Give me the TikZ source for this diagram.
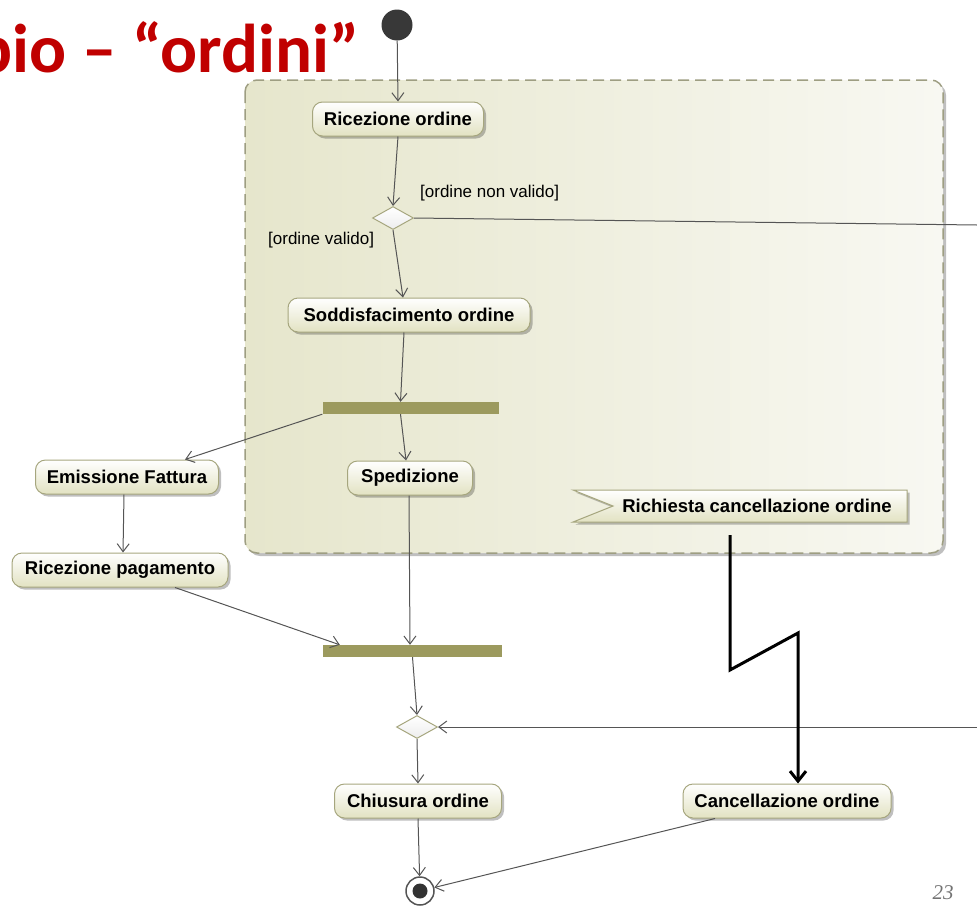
\documentclass[tikz,border=0pt]{standalone}
\usepackage{fontspec}
\setmainfont{Liberation Sans}
\newfontfamily\titlefont{Carlito}
\newfontfamily\numfont{Liberation Serif}
\usetikzlibrary{arrows.meta,shapes.geometric,shadows,calc}

\definecolor{titlered}{HTML}{C00000}
\definecolor{nodeborder}{HTML}{A6A67E}
\definecolor{nodefill}{HTML}{E2E2C2}
\definecolor{regionleft}{HTML}{E6E6CC}
\definecolor{regionright}{HTML}{F8F8F2}
\definecolor{regionborder}{HTML}{9E9E82}
\definecolor{forkcol}{HTML}{9C9A5E}
\definecolor{flowcol}{HTML}{555555}
\definecolor{diamfill}{HTML}{EDEDED}

\begin{document}
\begin{tikzpicture}[x=1pt,y=-1pt,
  action/.style={draw=nodeborder, line width=1pt, rounded corners=10pt,
    top color=white, bottom color=nodefill, minimum height=34pt, inner xsep=0pt,
    font=\bfseries\fontsize{18.5}{20}\selectfont,
    drop shadow={shadow xshift=2.5pt, shadow yshift=-2.5pt, fill=black, opacity=0.25}},
  decision/.style={diamond, draw=nodeborder, line width=1pt, top color=white, bottom color=diamfill,
    minimum width=41pt, minimum height=23pt, inner sep=0pt},
  forkbar/.style={rectangle, fill=forkcol, minimum width=176pt, minimum height=12pt, inner sep=0pt},
  flow/.style={draw=flowcol, line width=1pt, -{Straight Barb[length=8pt,width=12pt]}},
  plainflow/.style={draw=flowcol, line width=1pt},
  guard/.style={font=\fontsize{17}{19}\selectfont, inner sep=0pt, anchor=west},
  interrupt/.style={draw=black, line width=3pt, line join=miter, -{Straight Barb[length=10pt,width=16pt]}}
]
\useasboundingbox (0,0) rectangle (977,908);
\clip (0,0) rectangle (977,908);

% slide title, running off the left edge
\node[anchor=base east, inner sep=0pt, text=titlered,
      font=\titlefont\bfseries\fontsize{69}{72}\selectfont] (title) at (360,72) {Esempio – “ordini”};

% interruptible region
\path[left color=regionleft, right color=regionright, rounded corners=12pt,
      drop shadow={shadow xshift=3pt, shadow yshift=-3pt, fill=black, opacity=0.25}]
  (245,80) rectangle (943,553);
\draw[regionborder, line width=1.5pt, dash pattern=on 11pt off 6pt, rounded corners=12pt]
  (245,80) rectangle (943,553);

% initial and final nodes
\node[circle, fill=black!78, minimum size=31pt, inner sep=0pt] (init) at (397,25) {};
\node[circle, draw=flowcol, line width=1.5pt, fill=white, minimum size=28pt, inner sep=0pt] (fin) at (420,891) {};
\node[circle, fill=black!80, minimum size=15pt, inner sep=0pt] at (fin) {};

% actions
\node[action, minimum width=171pt] (ric) at (398,119) {Ricezione ordine};
\node[decision] (d1) at (393,218) {};
\node[action, minimum width=242pt] (sod) at (409,315) {Soddisfacimento ordine};
\node[forkbar] (bar1) at (410.5,408) {};
\node[action, minimum width=183pt] (emi) at (127,477) {Emissione Fattura};
\node[action, minimum width=125pt] (spe) at (410,478) {Spedizione};
\node[action, minimum width=216pt] (rp) at (120,570) {Ricezione pagamento};
\node[forkbar, minimum width=179pt] (bar2) at (412.5,651) {};
\node[decision] (d2) at (417,727) {};
\node[action, minimum width=167pt] (chi) at (418,801) {Chiusura ordine};
\node[action, minimum width=208pt] (canc) at (787,801) {Cancellazione ordine};

% accept event signal
\path[draw=nodeborder, line width=1pt, top color=white, bottom color=nodefill,
      drop shadow={shadow xshift=2.5pt, shadow yshift=-2.5pt, fill=black, opacity=0.25}]
  (573,490) -- (907,490) -- (907,522) -- (573,522) -- (613,506) -- cycle;
\node[font=\bfseries\fontsize{18.5}{20}\selectfont, inner sep=0pt] (sig) at (757,506) {Richiesta cancellazione ordine};

% guards
\node[guard] (g1) at (420,193) {[ordine non valido]};
\node[guard] (g2) at (268,240) {[ordine valido]};

% flows
\coordinate (outA) at (977,225);
\coordinate (outB) at (977,727);
\draw[flow] (init) -- (ric.north);
\draw[flow] (ric.south) -- (d1.north);
\draw[flow] (d1.south) -- ([xshift=-6pt]sod.north);
\draw[plainflow] (d1.east) -- (outA);
\draw[flow] ([xshift=-5pt]sod.south) -- ([xshift=-10pt]bar1.north);
\draw[flow] ([xshift=-10pt]bar1.south) -- ([xshift=-4pt]spe.north);
\draw[flow] (bar1.south west) -- ([xshift=58pt]emi.north);
\draw[flow] ([xshift=-3pt]emi.south) -- ([xshift=3pt]rp.north);
\draw[flow] ([xshift=55pt]rp.south) -- ([xshift=17pt]bar2.north west);
\draw[flow] ([xshift=-1pt]spe.south) -- (spe.south |- bar2.north);
\draw[flow] (bar2.south) -- (d2.north);
\draw[flow] (outB) -- (d2.east);
\draw[flow] (d2.south) -- (chi.north);
\draw[flow] (chi.south) -- (fin);
\draw[flow] ([xshift=-72pt]canc.south) -- (fin);

% interrupting edge
\coordinate (z0) at (730,535);
\coordinate (z1) at (730,670);
\coordinate (z2) at (798,633);
\draw[interrupt] (z0) -- (z1) -- (z2) -- (z2 |- canc.north);

% page number
\node[font=\numfont\itshape\fontsize{21}{22}\selectfont, text=black!55] (pg) at (943,893) {23};
\end{tikzpicture}
\end{document}
